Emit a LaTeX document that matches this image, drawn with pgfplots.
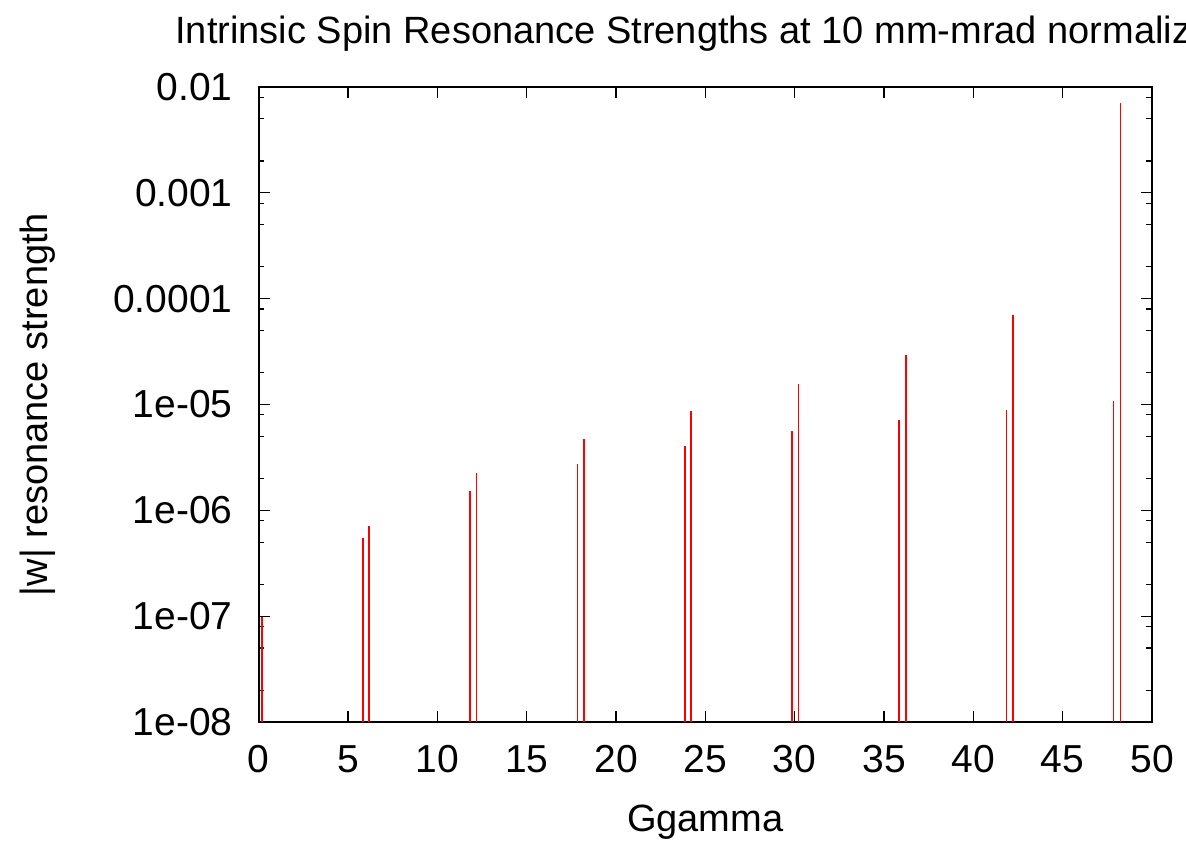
\documentclass[border=0pt]{standalone}
\usepackage{fontspec}
\setmainfont{Liberation Sans}
\usepackage{pgfplots}
\pgfplotsset{compat=1.18}
\begin{document}
\begin{tikzpicture}
\begin{axis}[
  at={(0,0)}, anchor=origin,
  scale only axis,
  width=446.65pt, height=317.5pt,
  xmin=0, xmax=50,
  ymode=log, ymin=1e-8, ymax=1e-2,
  log origin y=infty,
  axis line style={line width=1pt},
  tick align=inside,
  major tick length=5.5pt,
  minor tick length=2.8pt,
  every tick/.style={black, line width=0.6pt},
  xtick={0,5,...,50},
  minor xtick={},
  ytick={1e-8,1e-7,1e-6,1e-5,1e-4,1e-3,1e-2},
  yticklabels={1e-08,1e-07,1e-06,1e-05,0.0001,0.001,0.01},
  minor ytick={2e-8,5e-8,8e-8,2e-7,5e-7,8e-7,2e-6,5e-6,8e-6,2e-5,5e-5,8e-5,2e-4,5e-4,8e-4,2e-3,5e-3,8e-3},
  /pgf/number format/assume math mode=true,
  ticklabel style={font=\fontsize{19.5}{22}\selectfont, inner sep=0pt},
  xticklabel style={anchor=north, yshift=-11.5pt},
  yticklabel style={anchor=east, xshift=-12.85pt},
  clip=true,
]
\addplot[ycomb, color=red, line width=0.8pt, mark=none] coordinates {
  (0.19,9.8e-8)
  (5.84,5.5e-7)
  (6.19,7.1e-7)
  (11.83,1.52e-6)
  (12.18,2.24e-6)
  (17.84,2.75e-6)
  (18.20,4.73e-6)
  (23.85,4.06e-6)
  (24.20,8.7e-6)
  (29.84,5.6e-6)
  (30.21,1.56e-5)
  (35.85,7.14e-6)
  (36.22,2.94e-5)
  (41.86,8.9e-6)
  (42.22,7.03e-5)
  (47.85,1.08e-5)
  (48.23,7.06e-3)
};
\end{axis}
\node[anchor=base west, inner sep=0pt, font=\fontsize{19}{22}\selectfont] at (-41.85pt,339.5pt) {Intrinsic Spin Resonance Strengths at 10 mm-mrad normalized};
\node[anchor=center, inner sep=0pt, font=\fontsize{19}{22}\selectfont] at (223.3pt,-50pt) {Ggamma};
\node[anchor=center, rotate=90, inner sep=0pt, font=\fontsize{19}{22}\selectfont] at (-110.35pt,158.75pt) {|w| resonance strength};
\pgfresetboundingbox
\useasboundingbox (-129.35pt,-60.5pt) rectangle (463.65pt,361pt);
\end{tikzpicture}
\end{document}
